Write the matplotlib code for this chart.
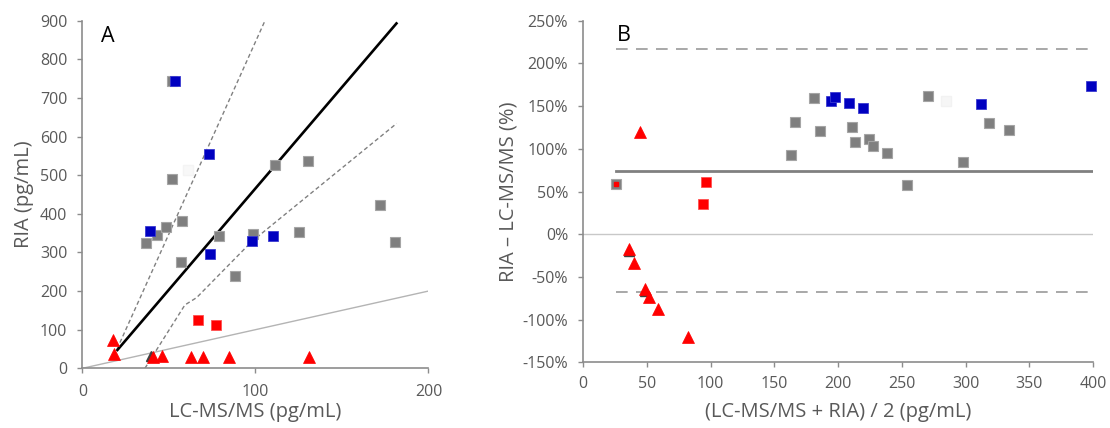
import matplotlib
matplotlib.use("Agg")
import matplotlib.pyplot as plt

plt.rcParams['font.family'] = ['Open Sans', 'DejaVu Sans']

# ---------------- Panel A data ----------------
a_gray_x = [36.8, 43.3, 48.1, 52.0, 52.0, 57.7, 57.0, 78.9, 88.2, 98.7, 111.3, 125.1, 130.1, 171.9, 180.9]
a_gray_y = [325, 345, 367, 489, 744, 381, 274, 343, 239, 349, 526, 352, 537, 423, 326]
a_blue_x = [53.3, 73.1, 39.1, 73.9, 97.8, 110.1]
a_blue_y = [744, 554, 356, 296, 329, 343]
a_red_sq_x = [67.0, 77.2]
a_red_sq_y = [125, 111]
a_red_tri_x = [17.5, 18.1, 41.0, 45.8, 62.8, 69.9, 84.9, 131.1]
a_red_tri_y = [72, 37, 30, 32, 30, 30, 30, 30]
a_gray_tri_x = [39.5]
a_gray_tri_y = [32]
a_white_x = [61.2]
a_white_y = [513]

reg_x = [20.2, 181.5]
reg_y = [47.5, 893]
upper_x = [20.0, 105.5]
upper_y = [50, 900]
lower_x = [36.1, 59.2, 66.0, 97.8, 114.2, 181.6]
lower_y = [0, 164, 183, 328, 388, 634]
ident_x = [0, 200]
ident_y = [0, 200]

# ---------------- Panel B data ----------------
b_gray_x = [25.5, 163.2, 166.1, 181.4, 185.5, 211.0, 213.6, 224.1, 227.0, 238.6, 254.2, 270.7, 297.7, 318.3, 333.9]
b_gray_y = [58.4, 92.3, 131.0, 159.5, 120.8, 125.1, 108.3, 111.5, 102.9, 95.1, 57.2, 162.2, 84.1, 130.2, 122.4]
b_blue_x = [194.2, 197.4, 208.4, 219.7, 311.9, 398.6]
b_blue_y = [156.3, 160.2, 154.0, 147.8, 152.8, 173.5]
b_red_sq_x = [96.2, 93.6]
b_red_sq_y = [60.7, 35.4]
b_red_small_x = [25.5]
b_red_small_y = [59.0]
b_red_tri_x = [44.3, 35.7, 39.4, 48.1, 51.3, 58.8, 82.0]
b_red_tri_y = [120.0, -17.7, -33.3, -63.8, -73.1, -88.0, -120.0]
b_gray_tri_x = [35.7, 48.1]
b_gray_tri_y = [-20.0, -66.0]
b_white_x = [284.9]
b_white_y = [156.3]

bias = 74.5
upper_loa = 216.5
lower_loa = -67.5
line_x = [25.5, 400]

GRAY = '#7f7f7f'
GRAY_EDGE = '#a5a5a5'
BLUE = '#0000c0'
RED = '#ff0000'
TICK = '#595959'
SPINE = '#8c8c8c'

fig = plt.figure(figsize=(11.10, 4.28), dpi=100)

def style(ax, fs, xpad, ypad):
    for s in ['top', 'right']:
        ax.spines[s].set_visible(False)
    for s in ['left', 'bottom']:
        ax.spines[s].set_color(SPINE)
        ax.spines[s].set_linewidth(1.2)
    ax.tick_params(direction='out', length=3.5, width=1.0, color=SPINE,
                   labelcolor=TICK, labelsize=fs)
    ax.tick_params(axis='x', pad=xpad)
    ax.tick_params(axis='y', pad=ypad)

# ---------------- Panel A ----------------
axA = fig.add_axes([0.0743, 0.1395, 0.3117, 0.8121])
style(axA, 11.5, 7.5, 7.5)
axA.set_xlim(0, 200)
axA.set_ylim(0, 900)
axA.set_xticks([0, 100, 200])
axA.set_yticks(range(0, 901, 100))

axA.plot(ident_x, ident_y, color='#b4b4b4', lw=1.0, zorder=2)
axA.plot(upper_x, upper_y, color='#808080', lw=1.0, ls=(0, (3, 2)), zorder=2)
axA.plot(lower_x, lower_y, color='#808080', lw=1.0, ls=(0, (3, 2)), zorder=2)
axA.plot(reg_x, reg_y, color='black', lw=1.9, zorder=2)

ms_sq = 7
ms_tri = 8.5
axA.plot(a_white_x, a_white_y, 's', ms=ms_sq, color='#f8f8f8', mec='#f4f4f4', zorder=3)
axA.plot(a_gray_x, a_gray_y, 's', ms=ms_sq, color=GRAY, mec=GRAY_EDGE, mew=0.8, zorder=3)
axA.plot(a_blue_x, a_blue_y, 's', ms=ms_sq, color=BLUE, mec='#3a3ad0', mew=0.6, zorder=4)
axA.plot(a_red_sq_x, a_red_sq_y, 's', ms=ms_sq, color=RED, mec='#ff5050', mew=0.6, zorder=4)
axA.plot(a_gray_tri_x, a_gray_tri_y, '^', ms=ms_tri - 1.5, color='#404040', mec='#404040', zorder=4)
axA.plot(a_red_tri_x, a_red_tri_y, '^', ms=ms_tri, color=RED, mec=RED, mew=0.5, zorder=5, clip_on=False)

axA.text(0.053, 0.985, 'A', transform=axA.transAxes, fontsize=15.5, color='black',
         ha='left', va='top')
axA.set_xlabel('LC-MS/MS (pg/mL)', fontsize=14.5, color=TICK, labelpad=2)
axA.set_ylabel('RIA (pg/mL)', fontsize=14.5, color=TICK, labelpad=4)

# ---------------- Panel B ----------------
axB = fig.add_axes([0.5255, 0.1535, 0.4592, 0.7981])
style(axB, 11.5, 6.5, 7.5)
axB.set_xlim(0, 400)
axB.set_ylim(-150, 250)
axB.set_xticks(range(0, 401, 50))
yt = list(range(-150, 251, 50))
axB.set_yticks(yt)
axB.set_yticklabels([f'{v}%' for v in yt])

axB.axhline(0, color='#c8c8c8', lw=1.0, zorder=1)
axB.plot(line_x, [bias, bias], color='#808080', lw=2.0, zorder=2)
axB.plot(line_x, [upper_loa, upper_loa], color='#9a9a9a', lw=1.2, ls=(0, (7, 5)), zorder=2)
axB.plot(line_x, [lower_loa, lower_loa], color='#9a9a9a', lw=1.2, ls=(0, (7, 5)), zorder=2)

axB.plot(b_white_x, b_white_y, 's', ms=ms_sq, color='#f6f6f6', mec='#f2f2f2', zorder=3)
axB.plot(b_gray_x, b_gray_y, 's', ms=ms_sq, color=GRAY, mec=GRAY_EDGE, mew=0.8, zorder=3)
axB.plot(b_blue_x, b_blue_y, 's', ms=ms_sq, color=BLUE, mec='#3a3ad0', mew=0.6, zorder=4, clip_on=False)
axB.plot(b_red_sq_x, b_red_sq_y, 's', ms=ms_sq, color=RED, mec='#ff5050', mew=0.6, zorder=4)
axB.plot(b_red_small_x, b_red_small_y, 's', ms=3.5, color=RED, mec=RED, zorder=4)
axB.plot(b_gray_tri_x, b_gray_tri_y, '^', ms=ms_tri - 1.5, color='#404040', mec='#404040', zorder=4)
axB.plot(b_red_tri_x, b_red_tri_y, '^', ms=ms_tri, color=RED, mec=RED, mew=0.5, zorder=5)

axB.text(0.066, 0.987, 'B', transform=axB.transAxes, fontsize=15.5, color='black',
         ha='left', va='top')
axB.set_xlabel('(LC-MS/MS + RIA) / 2 (pg/mL)', fontsize=14.5, color=TICK, labelpad=7)
axB.set_ylabel('RIA – LC-MS/MS (%)', fontsize=14.5, color=TICK, labelpad=3)

fig.savefig('out.png', dpi=100)
